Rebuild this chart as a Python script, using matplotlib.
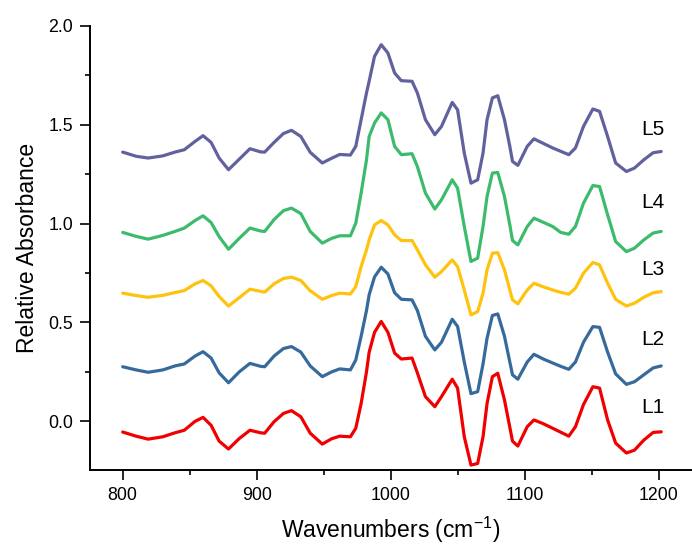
import matplotlib
matplotlib.use("Agg")
import matplotlib.pyplot as plt
from matplotlib.ticker import MultipleLocator, FormatStrFormatter

plt.rcParams['font.family'] = ['Liberation Sans', 'DejaVu Sans']
plt.rcParams['mathtext.default'] = 'regular'

# wavenumber grid (cm-1)
wn = [800, 810, 819, 830, 839, 846, 854, 860, 866, 872, 879, 887, 895, 903, 906,
      913, 920, 926, 933, 940, 949, 956, 962, 970, 974, 978, 982, 984, 988, 993,
      998, 1003, 1008, 1016, 1020, 1026, 1033, 1038, 1046, 1050, 1055, 1060, 1065,
      1069, 1072, 1076, 1080, 1085, 1089, 1091, 1095, 1102, 1107, 1114, 1121, 1127,
      1133, 1138, 1144, 1151, 1156, 1162, 1168, 1176, 1182, 1189, 1196, 1202]

L1 = [-0.054, -0.075, -0.090, -0.078, -0.058, -0.045, 0.000, 0.020, -0.020, -0.100,
      -0.140, -0.087, -0.045, -0.058, -0.060, -0.002, 0.040, 0.054, 0.023, -0.060,
      -0.115, -0.088, -0.075, -0.078, -0.035, 0.090, 0.250, 0.350, 0.450, 0.505,
      0.450, 0.345, 0.315, 0.320, 0.245, 0.125, 0.074, 0.125, 0.213, 0.168,
      -0.078, -0.221, -0.213, -0.078, 0.090, 0.226, 0.243, 0.108, -0.030, -0.100,
      -0.125, -0.027, 0.007, -0.012, -0.035, -0.055, -0.075, -0.027, 0.085, 0.175,
      0.168, 0.007, -0.110, -0.160, -0.146, -0.095, -0.056, -0.053]

L2 = [0.276, 0.260, 0.248, 0.260, 0.280, 0.290, 0.330, 0.352, 0.320, 0.245,
      0.195, 0.250, 0.293, 0.278, 0.276, 0.330, 0.368, 0.378, 0.350, 0.280,
      0.226, 0.250, 0.265, 0.260, 0.310, 0.430, 0.560, 0.640, 0.730, 0.779,
      0.745, 0.650, 0.617, 0.614, 0.560, 0.430, 0.361, 0.400, 0.516, 0.480,
      0.300, 0.140, 0.150, 0.290, 0.420, 0.535, 0.543, 0.430, 0.300, 0.235,
      0.213, 0.300, 0.339, 0.315, 0.295, 0.278, 0.263, 0.300, 0.400, 0.479,
      0.475, 0.350, 0.240, 0.187, 0.200, 0.235, 0.270, 0.280]

L3 = [0.648, 0.636, 0.627, 0.637, 0.651, 0.661, 0.695, 0.712, 0.685, 0.631,
      0.583, 0.625, 0.668, 0.657, 0.653, 0.695, 0.722, 0.729, 0.712, 0.660,
      0.617, 0.636, 0.648, 0.644, 0.681, 0.782, 0.867, 0.917, 0.993, 1.015,
      0.993, 0.943, 0.914, 0.914, 0.867, 0.791, 0.729, 0.757, 0.816, 0.782,
      0.664, 0.538, 0.555, 0.648, 0.766, 0.850, 0.853, 0.766, 0.664, 0.614,
      0.594, 0.664, 0.698, 0.680, 0.664, 0.652, 0.643, 0.673, 0.749, 0.803,
      0.791, 0.698, 0.617, 0.583, 0.597, 0.627, 0.650, 0.656]

L4 = [0.955, 0.935, 0.921, 0.940, 0.960, 0.977, 1.015, 1.039, 1.005, 0.934,
      0.870, 0.925, 0.977, 0.962, 0.960, 1.020, 1.065, 1.078, 1.050, 0.960,
      0.901, 0.925, 0.938, 0.938, 1.002, 1.154, 1.322, 1.440, 1.508, 1.559,
      1.525, 1.390, 1.348, 1.353, 1.288, 1.154, 1.073, 1.120, 1.221, 1.179,
      0.985, 0.808, 0.825, 0.985, 1.137, 1.255, 1.258, 1.137, 0.993, 0.914,
      0.892, 0.985, 1.027, 1.006, 0.985, 0.955, 0.946, 0.985, 1.103, 1.192,
      1.187, 1.044, 0.909, 0.858, 0.875, 0.917, 0.952, 0.960]

L5 = [1.361, 1.340, 1.331, 1.342, 1.361, 1.373, 1.415, 1.444, 1.410, 1.331,
      1.272, 1.325, 1.378, 1.362, 1.361, 1.410, 1.455, 1.471, 1.440, 1.360,
      1.306, 1.330, 1.349, 1.346, 1.390, 1.525, 1.660, 1.720, 1.845, 1.904,
      1.862, 1.761, 1.722, 1.719, 1.660, 1.525, 1.449, 1.491, 1.612, 1.575,
      1.356, 1.204, 1.221, 1.356, 1.525, 1.635, 1.646, 1.525, 1.390, 1.314,
      1.294, 1.390, 1.428, 1.405, 1.382, 1.365, 1.348, 1.382, 1.491, 1.579,
      1.567, 1.440, 1.306, 1.263, 1.280, 1.322, 1.358, 1.364]

names = ["L1", "L2", "L3", "L4", "L5"]
label_y = [0.070, 0.414, 0.767, 1.106, 1.475]
colors = ["#f00000", "#376a9c", "#ffc20e", "#3cbb6d", "#61619e"]

fig = plt.figure(figsize=(6.92, 5.48), dpi=100)
ax = fig.add_axes([90 / 692, 1 - 470 / 548, 1 - 90 / 692, (470 - 25.7) / 548])

for y, c in zip([L1, L2, L3, L4, L5], colors):
    ax.plot(wn, y, color=c, lw=2.3, solid_joinstyle='round', solid_capstyle='round')

for n, yl in zip(names, label_y):
    ax.text(1195.5, yl, n, fontsize=15, ha='center', va='center')

ax.set_xlim(775.6, 1225)
ax.set_ylim(-0.246, 2.0)
ax.xaxis.set_major_locator(MultipleLocator(100))
ax.xaxis.set_minor_locator(MultipleLocator(50))
ax.yaxis.set_major_locator(MultipleLocator(0.5))
ax.yaxis.set_minor_locator(MultipleLocator(0.25))
ax.yaxis.set_major_formatter(FormatStrFormatter('%.1f'))

for s in ['top', 'right']:
    ax.spines[s].set_visible(False)
for s in ['left', 'bottom']:
    ax.spines[s].set_linewidth(1.4)

ax.tick_params(which='major', direction='out', length=7, width=1.2, labelsize=12.8, pad=5)
ax.tick_params(which='minor', direction='out', length=3.5, width=1.2)

ax.set_xlabel("Wavenumbers (cm$^{-1}$)", fontsize=16.5, labelpad=8)
ax.set_ylabel("Relative Absorbance", fontsize=16.5, labelpad=7)

fig.savefig("out.png", dpi=100)
